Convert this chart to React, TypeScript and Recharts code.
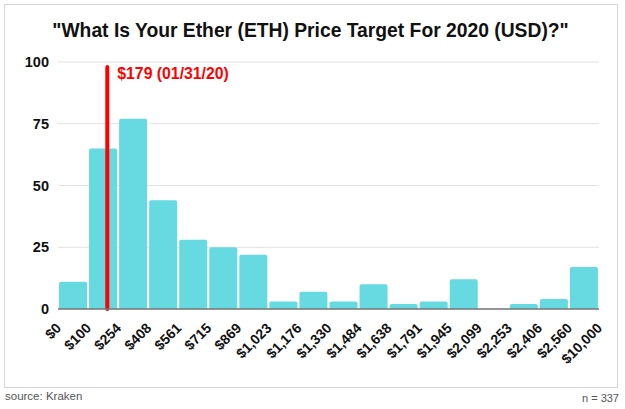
import React from 'react';
import { BarChart, Bar, XAxis, YAxis, CartesianGrid, ReferenceLine } from 'recharts';

const binEdgeLabels = ['$0', '$100', '$254', '$408', '$561', '$715', '$869', '$1,023', '$1,176', '$1,330', '$1,484', '$1,638', '$1,791', '$1,945', '$2,099', '$2,253', '$2,406', '$2,560', '$10,000'];
const binCounts = [11, 65, 77, 44, 28, 25, 22, 3, 7, 3, 10, 2, 3, 12, 0, 2, 4, 17];
const yTicks = [0, 25, 50, 75, 100];
const edgeTicks = binEdgeLabels.map((_, i) => i);
const markerText = '$179 (01/31/20)';
const markerBinPosition = 1.64;
const markerTop = 98;

const titleText = '"What Is Your Ether (ETH) Price Target For 2020 (USD)?"';
const sourceText = 'source: Kraken';
const countText = 'n = 337';

// each bin is drawn at the middle of its [i, i+1] edge interval
const data = binCounts.map((count, i) => ({ mid: i + 0.5, count }));

const FONT = '"Liberation Sans", Arial, Helvetica, sans-serif';

const EdgeTick = (props: any) => {
  const { x, y, payload } = props;
  return (
    <g transform={`translate(${x + 4},${y + 20})`}>
      <text
        x={0}
        y={0}
        textAnchor="end"
        transform="rotate(-45)"
        fontSize={14}
        fontWeight="bold"
        fill="#111"
        fontFamily={FONT}
      >
        {binEdgeLabels[payload.value]}
      </text>
    </g>
  );
};

const MarkerLabel = (props: any) => {
  const vb = props.viewBox || {};
  return (
    <text x={(vb.x || 0) + 10} y={(vb.y || 0) + 12} fill="#ff0000" fontSize={15.8} fontWeight="bold" fontFamily={FONT}>
      {markerText}
    </text>
  );
};

export default function App() {
  return (
    <div style={{ position: 'fixed', left: 0, top: 0, width: 625, height: 409, background: '#fff', overflow: 'hidden' }}>
      <svg width={625} height={409} style={{ position: 'absolute', left: 0, top: 0 }}>
        <rect x={4.5} y={4.5} width={613} height={383} fill="#fff" stroke="#d6d6d6" strokeWidth={1} />
        <text x={310.5} y={37} textAnchor="middle" fontSize={19.3} fontWeight="bold" fill="#111" fontFamily={FONT}>
          {titleText}
        </text>
        <text x={5} y={400} fontSize={11.5} fill="#555" fontFamily={FONT}>
          {sourceText}
        </text>
        <text x={619} y={402} textAnchor="end" fontSize={11} fill="#555" fontFamily={FONT}>
          {countText}
        </text>
      </svg>
      <div style={{ position: 'absolute', left: 0, top: 0 }}>
        <BarChart
          width={625}
          height={409}
          data={data}
          margin={{ top: 62, right: 26, bottom: 99, left: 18 }}
        >
          <CartesianGrid vertical={false} stroke="#e2e2e2" strokeWidth={1.2} />
          <XAxis
            dataKey="mid"
            type="number"
            domain={[0, 18]}
            allowDataOverflow
            ticks={edgeTicks}
            interval={0}
            height={1}
            tickSize={0}
            tickMargin={0}
            tickLine={false}
            padding={{ left: 0, right: 0 }}
            axisLine={{ stroke: '#777', strokeWidth: 1.5 }}
            tick={<EdgeTick />}
          />
          <YAxis
            domain={[0, 100]}
            ticks={yTicks}
            width={40}
            axisLine={false}
            tickLine={false}
            tickSize={6}
            tickMargin={3}
            tick={{ fill: '#111', fontSize: 14.5, fontWeight: 'bold', fontFamily: FONT }}
          />
          <Bar dataKey="count" fill="#66d9e1" barSize={28} radius={[2, 2, 0, 0]} isAnimationActive={false} />
          <ReferenceLine
            segment={[{ x: markerBinPosition, y: 0 }, { x: markerBinPosition, y: markerTop }]}
            stroke="#ff0000"
            strokeWidth={4}
            strokeLinecap="round"
            label={<MarkerLabel />}
          />
        </BarChart>
      </div>
    </div>
  );
}
